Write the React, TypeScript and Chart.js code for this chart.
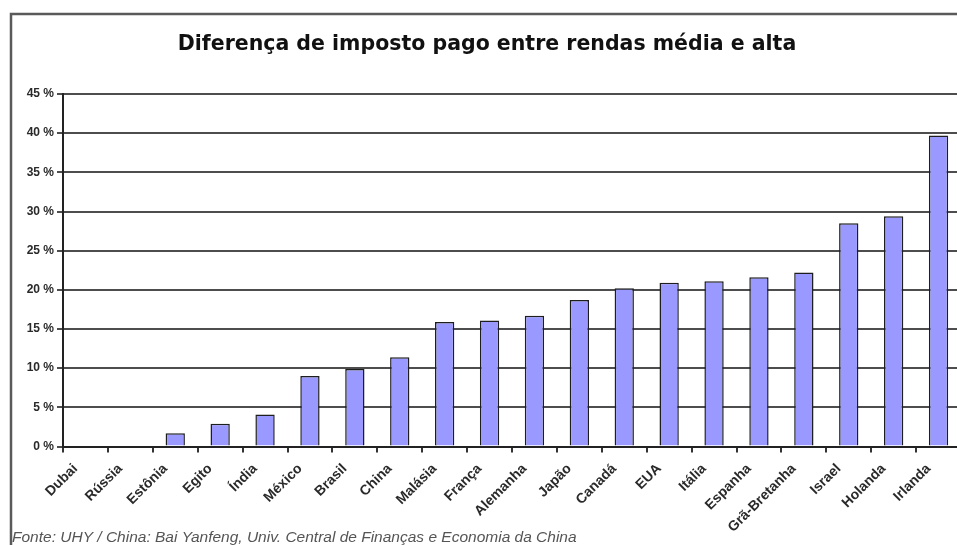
import React, { useEffect, useRef } from 'react';
import { Chart, registerables } from 'chart.js';

Chart.register(...registerables);

const categories = [
  'Dubai', 'Rússia', 'Estônia', 'Egito', 'Índia', 'México', 'Brasil', 'China', 'Malásia', 'França',
  'Alemanha', 'Japão', 'Canadá', 'EUA', 'Itália', 'Espanha', 'Grã-Bretanha', 'Israel', 'Holanda', 'Irlanda',
];
const values = [0, 0, 1.7, 2.9, 4.1, 9.0, 9.9, 11.4, 15.9, 16.1, 16.7, 18.7, 20.2, 20.9, 21.1, 21.6, 22.2, 28.5, 29.4, 39.7];
const yMax = 45;
const yStep = 5;
const titleText = 'Diferença de imposto pago entre rendas média e alta';
const sourceText = 'Fonte: UHY / China: Bai Yanfeng, Univ. Central de Finanças e Economia da China';

const decorPlugin = {
  id: 'decor',
  beforeDraw(chart: any) {
    const ctx = chart.ctx;
    ctx.save();
    ctx.fillStyle = '#ffffff';
    ctx.fillRect(0, 0, chart.width, chart.height);
    // frame
    ctx.strokeStyle = '#5a5a5a';
    ctx.lineWidth = 2.5;
    ctx.beginPath();
    ctx.moveTo(11, chart.height + 5);
    ctx.lineTo(11, 14);
    ctx.lineTo(chart.width + 5, 14);
    ctx.stroke();
    // title
    ctx.fillStyle = '#111111';
    ctx.font = 'bold 20.5px "DejaVu Sans"';
    ctx.textAlign = 'center';
    ctx.textBaseline = 'middle';
    ctx.fillText(titleText, 487, 45);
    ctx.restore();
  },
  afterDraw(chart: any) {
    const ctx = chart.ctx;
    ctx.save();
    ctx.fillStyle = '#555555';
    ctx.font = 'italic 15.5px "Liberation Sans"';
    ctx.textAlign = 'left';
    ctx.textBaseline = 'alphabetic';
    ctx.fillText(sourceText, 12, 542);
    ctx.restore();
  },
};

export default function App() {
  const ref = useRef<HTMLCanvasElement>(null);
  useEffect(() => {
    if (!ref.current) return;
    const chart = new Chart(ref.current, {
      type: 'bar',
      data: {
        labels: categories,
        datasets: [
          {
            data: values,
            backgroundColor: '#9999ff',
            borderColor: '#1e1e1e',
            borderWidth: 1.5,
            barPercentage: 0.43,
            categoryPercentage: 1,
          },
        ],
      },
      options: {
        responsive: false,
        animation: false,
        layout: { padding: { top: 94, left: 0, right: 1, bottom: 0 } },
        plugins: { legend: { display: false }, title: { display: false }, tooltip: { enabled: false } },
        scales: {
          x: {
            offset: true,
            grid: { display: true, drawOnChartArea: false, drawTicks: true, tickLength: 6, color: '#333', lineWidth: 2, offset: true },
            border: { display: true, color: '#222', width: 2 },
            ticks: {
              minRotation: 45,
              maxRotation: 45,
              autoSkip: false,
              padding: 8,
              labelOffset: -10,
              color: '#2a2a2a',
              font: { family: '"Liberation Sans"', size: 14, weight: 'bold' },
            },
            afterFit(scale: any) {
              scale.height = 98.5;
            },
          },
          y: {
            min: 0,
            max: yMax,
            grid: { color: '#4d4d4d', lineWidth: 2, tickLength: 6, drawTicks: true },
            border: { display: true, color: '#222', width: 2 },
            ticks: {
              stepSize: yStep,
              padding: 3,
              color: '#2a2a2a',
              font: { family: '"Liberation Sans"', size: 12, weight: 'bold' },
              callback: (v: any) => `${v} %`,
            },
            afterFit(scale: any) {
              scale.width = 63;
            },
          },
        },
      },
      plugins: [decorPlugin],
    });
    return () => chart.destroy();
  }, []);
  return (
    <div style={{ position: 'fixed', left: 0, top: 0, width: 957, height: 545, overflow: 'hidden', background: '#fff' }}>
      <canvas ref={ref} width={962} height={545} style={{ display: 'block' }} />
    </div>
  );
}
